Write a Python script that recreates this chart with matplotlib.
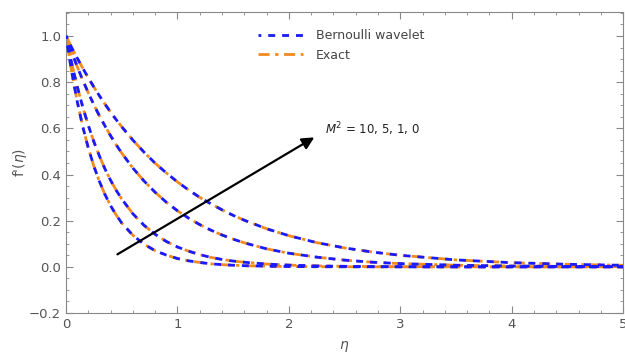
import matplotlib.pyplot as plt
from matplotlib.ticker import MultipleLocator

# eta grid and f'(eta) values
eta = [0, 0.05, 0.1, 0.15, 0.2, 0.25, 0.3, 0.35, 0.4, 0.45, 0.5, 0.6, 0.7,
       0.8, 0.9, 1.0, 1.1, 1.2, 1.3, 1.4, 1.5, 1.6, 1.8, 2.0, 2.25, 2.5,
       2.75, 3.0, 3.5, 4.0, 4.5, 5.0]

f_m10 = [1.0, 0.847, 0.718, 0.608, 0.515, 0.436, 0.370, 0.313, 0.265, 0.225,
         0.190, 0.137, 0.098, 0.070, 0.051, 0.036, 0.026, 0.019, 0.013, 0.0096,
         0.0069, 0.0050, 0.0026, 0.0013, 0.0006, 0.0003, 0.0001, 0.0, 0.0,
         0.0, 0.0, 0.0]
f_m5 = [1.0, 0.885, 0.783, 0.693, 0.613, 0.542, 0.480, 0.424, 0.375, 0.332,
        0.294, 0.230, 0.180, 0.141, 0.110, 0.086, 0.068, 0.053, 0.041, 0.032,
        0.025, 0.020, 0.012, 0.0075, 0.0040, 0.0022, 0.0012, 0.0006, 0.0002,
        0.0001, 0.0, 0.0]
f_m1 = [1.0, 0.932, 0.868, 0.809, 0.754, 0.702, 0.654, 0.610, 0.568, 0.529,
        0.493, 0.428, 0.372, 0.323, 0.280, 0.243, 0.211, 0.183, 0.159, 0.138,
        0.120, 0.104, 0.078, 0.059, 0.042, 0.029, 0.020, 0.014, 0.0071,
        0.0035, 0.0017, 0.0008]
f_m0 = [1.0, 0.951, 0.905, 0.861, 0.819, 0.779, 0.741, 0.705, 0.670, 0.638,
        0.607, 0.549, 0.497, 0.449, 0.407, 0.368, 0.333, 0.301, 0.273, 0.247,
        0.223, 0.202, 0.165, 0.135, 0.105, 0.082, 0.064, 0.050, 0.030, 0.018,
        0.011, 0.0067]

curves = [f_m10, f_m5, f_m1, f_m0]

blue = "#1a1aff"
orange = "#f28a1e"
gray = "#888888"

fig = plt.figure(figsize=(6.25, 3.53), dpi=100)
ax = fig.add_axes([0.1056, 0.1133, 0.8914, 0.8527])

for i, f in enumerate(curves):
    ax.plot(eta, f, color=orange, lw=2, linestyle=(0, (4, 2, 1.2, 2)),
            label="Exact" if i == 0 else None, zorder=2)
    ax.plot(eta, f, color=blue, lw=2, linestyle=(1.5, (2.5, 2.5)),
            label="Bernoulli wavelet" if i == 0 else None, zorder=3)

ax.set_xlim(0, 5)
ax.set_ylim(-0.2, 1.104)
ax.xaxis.set_major_locator(MultipleLocator(1))
ax.xaxis.set_minor_locator(MultipleLocator(0.2))
ax.yaxis.set_major_locator(MultipleLocator(0.2))
ax.yaxis.set_minor_locator(MultipleLocator(0.05))

ax.tick_params(which="both", direction="in", top=True, right=True,
               colors=gray, labelcolor="#555555", labelsize=9.5)
ax.tick_params(which="major", length=5)
ax.tick_params(which="minor", length=2.5)
for s in ax.spines.values():
    s.set_color(gray)

ax.set_xlabel(r"$\eta$", color="#555555", fontsize=10, labelpad=6)
ax.set_ylabel(r"f'($\eta$)", color="#555555", fontsize=10, labelpad=0)

handles, labels = ax.get_legend_handles_labels()
ax.legend([handles[1], handles[0]], [labels[1], labels[0]],
          loc="upper left", bbox_to_anchor=(0.325, 0.98), frameon=False,
          fontsize=9, handlelength=3.6, handletextpad=1.0,
          labelcolor="#444444")

ax.annotate("", xy=(2.25, 0.567), xytext=(0.44, 0.048),
            arrowprops=dict(arrowstyle="-|>", color="black", lw=1.6,
                            mutation_scale=18))
ax.text(2.32, 0.595, r"$M^2$ = 10, 5, 1, 0", fontsize=8.5, color="#222222",
        va="center", ha="left")

fig.savefig("out.png", dpi=100)
